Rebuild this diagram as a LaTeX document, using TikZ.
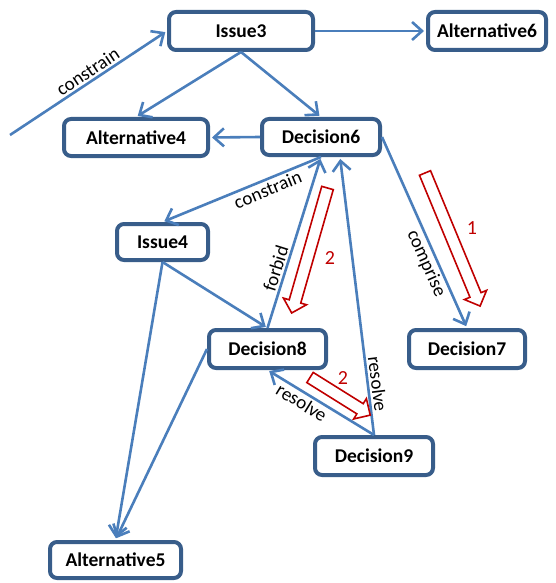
\documentclass[tikz,border=0pt]{standalone}
\usepackage{fontspec}
\setmainfont{Carlito}
\usetikzlibrary{arrows.meta}
\definecolor{boxline}{HTML}{385D8A}
\definecolor{edgeblue}{HTML}{4A7EBB}
\definecolor{markred}{HTML}{C00000}
\tikzset{
  concept/.style={draw=boxline, line width=4pt, rounded corners=7pt, fill=white,
    inner sep=0pt, font=\fontsize{19.5}{22}\selectfont\bfseries, minimum height=38pt},
  rel/.style={draw=edgeblue, line width=2.6pt, shorten >=2pt,
    -{Straight Barb[length=10pt,width=18pt]}},
  rellabel/.style={font=\fontsize{19}{22}\selectfont, sloped, inner sep=2pt, text=black},
  stepmark/.style={draw=markred, line width=1.6pt, fill=white, line join=miter},
  stepnum/.style={text=markred, font=\fontsize{20}{22}\selectfont}
}
% hollow block arrow: #1 tail point, #2 direction angle, #3 length
\newcommand\blockarrow[3]{%
  \draw[stepmark, shift={#1}, rotate=#2]
    (0,-6) -- (#3-12,-6) -- (#3-12,-12) -- (#3,0) -- (#3-12,12) -- (#3-12,6) -- (0,6) -- cycle;}

\begin{document}
\begin{tikzpicture}[x=1pt,y=-1pt]
\useasboundingbox (0,0) rectangle (555,583);

% concepts
\node[concept, minimum width=144pt] (i3) at (241,31) {Issue3};
\node[concept, minimum width=118pt] (a6) at (487,31) {Alternative6};
\node[concept, minimum width=144pt, minimum height=37pt] (a4) at (136,137.5) {Alternative4};
\node[concept, minimum width=118pt, minimum height=36pt] (d6) at (321,137) {Decision6};
\node[concept, minimum width=91pt, minimum height=36pt] (i4) at (162.5,242) {Issue4};
\node[concept, minimum width=117pt] (d8) at (267.5,349) {Decision8};
\node[concept, minimum width=116pt] (d7) at (467,349) {Decision7};
\node[concept, minimum width=118pt] (d9) at (374,456) {Decision9};
\node[concept, minimum width=131pt, minimum height=36pt] (a5) at (115.5,560) {Alternative5};

\coordinate (src) at (10,135);
\coordinate (d6r) at ([xshift=19pt]d6.south);

% relations
\draw[rel] (src) -- node[rellabel, above, pos=0.53] {constrain} (i3.west);
\draw[rel] (i3.east) -- (a6.west);
\draw[rel] (i3.south) -- (a4.north);
\draw[rel] (i3.south) -- (d6.north);
\draw[rel] (d6.west) -- (a4.east);
\draw[rel] (d6.south) -- node[rellabel, below, pos=0.36] {constrain} (i4.north);
\draw[rel] (i4.south) -- (d8.north);
\draw[rel] (d8.north) -- node[rellabel, above, pos=0.33] {forbid} (d6.south);
\draw[rel] (d9.north) -- node[rellabel, above, pos=0.18] {resolve} (d6r);
\draw[rel] (d9.north) -- node[rellabel, below, pos=0.63] {resolve} (d8.south);
\draw[rel] (d6.east) -- node[rellabel, below, pos=0.64] {comprise} (d7.north);
\draw[rel] (i4.south) -- (a5.north);
\draw[rel] (d8.west) -- (a5.north);

% step markers
\blockarrow{(425,173)}{-67.5}{144}
\blockarrow{(327.5,188)}{-106}{130}
\blockarrow{(310,377.5)}{-32}{71}
\node[stepnum] (n1) at (472,228) {1};
\node[stepnum] (n2) at (330,258) {2};
\node[stepnum] (n3) at (343,378) {2};
\end{tikzpicture}
\end{document}
